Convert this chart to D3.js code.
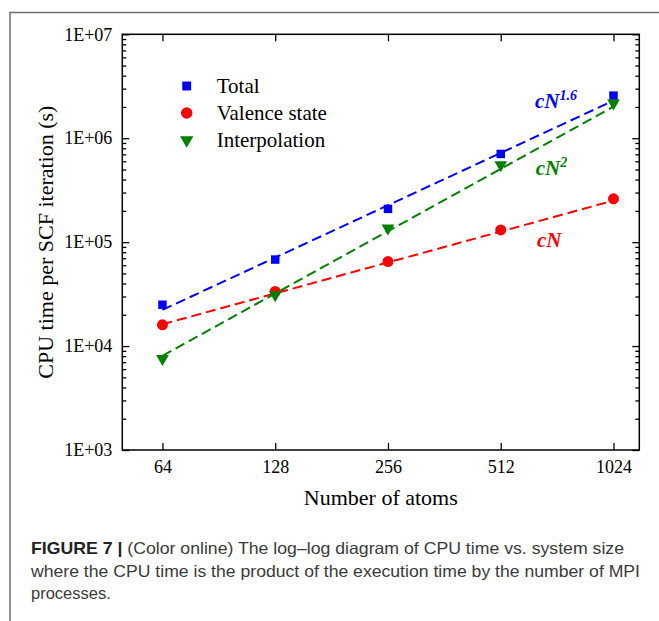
<!DOCTYPE html>
<html>
<head>
<meta charset="utf-8">
<script src="https://cdn.jsdelivr.net/npm/d3@7"></script>
<style>
  body { margin: 0; background: #fff; }
  svg text { font-family: "Liberation Serif", "Times New Roman", serif; }
  .caption text { font-family: "Liberation Sans", Arial, sans-serif; }
</style>
</head>
<body>
<div id="chart"></div>
<script>
// Data
var atoms = [64, 128, 256, 512, 1024];
var totalTime = [2.5e4, 6.8e4, 2.09e5, 7.06e5, 2.57e6];
var valenceTime = [1.6e4, 3.35e4, 6.5e4, 1.31e5, 2.61e5];
var interpTime = [7.55e3, 3.11e4, 1.36e5, 5.53e5, 2.17e6];

// fitted power laws, endpoints at N = 64 and N = 1024
var fitN = [64, 1024];
var totalFit = [2.23e4, 2.3e6];
var valenceFit = [1.62e4, 2.51e5];
var interpFit = [8.07e3, 2.01e6];

var yTicks = [1e3, 1e4, 1e5, 1e6, 1e7];
var yTickLabels = ["1E+03", "1E+04", "1E+05", "1E+06", "1E+07"];
var seriesNames = ["Total", "Valence state", "Interpolation"];
// exponent shown next to each fit (Total, Valence, Interpolation)
var fitLabels = ["1.6", "", "2"];
// label anchors in data units (N, time)
var fitLabelN = [632, 640, 635];
var fitLabelT = [1.94e6, 9.0e4, 4.42e5];

var width = 659, height = 621;
var margin = {left: 122.3, right: 19.7, top: 34.3, bottom: 171};

var svg = d3.select("#chart")
    .append("svg")
    .attr("width", width)
    .attr("height", height);

// figure frame (top and left edge)
svg.append("path")
    .attr("d", "M10,621V12.5H659")
    .attr("fill", "none")
    .attr("stroke", "#6e6e6e")
    .attr("stroke-width", 1.5);

var xScale = d3.scaleLog().base(2)
    .domain([50, 1200])
    .range([margin.left, width - margin.right]);

var yScale = d3.scaleLog()
    .domain([1e3, 1e7])
    .range([height - margin.bottom, margin.top]);

var minorTicks = [];
yTicks.slice(0, -1).forEach(function(t) {
  for (var k = 2; k <= 9; k++) minorTicks.push(t * k);
});

var x0 = margin.left, x1 = width - margin.right;
var y0 = height - margin.bottom, y1 = margin.top;

// axes
svg.append("g")
    .attr("transform", `translate(0, ${y0})`)
    .call(d3.axisBottom(xScale).tickValues(atoms).tickFormat(d3.format("d"))
        .tickSizeInner(-7).tickSizeOuter(0).tickPadding(10));
svg.append("g")
    .attr("transform", `translate(0, ${y1})`)
    .call(d3.axisTop(xScale).tickValues(atoms).tickFormat("")
        .tickSizeInner(-7).tickSizeOuter(0));
svg.append("g")
    .attr("transform", `translate(${x0}, 0)`)
    .call(d3.axisLeft(yScale).tickValues(yTicks)
        .tickFormat(function(d, i) { return yTickLabels[i]; })
        .tickSizeInner(-7).tickSizeOuter(0).tickPadding(10));
svg.append("g")
    .attr("transform", `translate(${x0}, 0)`)
    .call(d3.axisLeft(yScale).tickValues(minorTicks).tickFormat("")
        .tickSizeInner(-4).tickSizeOuter(0));
svg.append("g")
    .attr("transform", `translate(${x1}, 0)`)
    .call(d3.axisRight(yScale).tickValues(yTicks).tickFormat("")
        .tickSizeInner(-7).tickSizeOuter(0));
svg.append("g")
    .attr("transform", `translate(${x1}, 0)`)
    .call(d3.axisRight(yScale).tickValues(minorTicks).tickFormat("")
        .tickSizeInner(-4).tickSizeOuter(0));

svg.selectAll(".domain").remove();
svg.selectAll(".tick line").attr("stroke", "#000").attr("stroke-width", 1.3);
svg.selectAll(".tick text")
    .attr("font-family", "Liberation Serif, Times New Roman, serif")
    .attr("font-size", 18)
    .attr("fill", "#000");

// plot frame
svg.append("rect")
    .attr("x", x0).attr("y", y1)
    .attr("width", x1 - x0).attr("height", y0 - y1)
    .attr("fill", "none")
    .attr("stroke", "#000")
    .attr("stroke-width", 1.5);

// axis titles
svg.append("text")
    .attr("x", (x0 + x1) / 2)
    .attr("y", 505)
    .attr("text-anchor", "middle")
    .attr("font-size", 22)
    .text("Number of atoms");

svg.append("text")
    .attr("transform", `translate(53, ${(y0 + y1) / 2}) rotate(-90)`)
    .attr("text-anchor", "middle")
    .attr("font-size", 22)
    .text("CPU time per SCF iteration (s)");

// series
var series = [
  {name: seriesNames[0], values: totalTime, fit: totalFit, color: "#0000ff", symbol: d3.symbolSquare, size: 72, rot: 0},
  {name: seriesNames[1], values: valenceTime, fit: valenceFit, color: "#ff0000", symbol: d3.symbolCircle, size: 95, rot: 0},
  {name: seriesNames[2], values: interpTime, fit: interpFit, color: "#008000", symbol: d3.symbolTriangle, size: 70, rot: 180}
];

var line = d3.line()
    .x(function(d) { return xScale(d[0]); })
    .y(function(d) { return yScale(d[1]); });

series.forEach(function(s) {
  svg.append("path")
      .datum(fitN.map(function(n, i) { return [n, s.fit[i]]; }))
      .attr("d", line)
      .attr("fill", "none")
      .attr("stroke", s.color)
      .attr("stroke-width", 2)
      .attr("stroke-dasharray", "10,5");
});

series.forEach(function(s) {
  svg.append("g").selectAll("path")
      .data(atoms.map(function(n, i) { return [n, s.values[i]]; }))
      .enter()
      .append("path")
      .attr("d", d3.symbol().type(s.symbol).size(s.size))
      .attr("transform", function(d) {
        return `translate(${xScale(d[0])}, ${yScale(d[1])}) rotate(${s.rot})`;
      })
      .attr("fill", s.color);
});

// fit labels
series.forEach(function(s, i) {
  var t = svg.append("text")
      .attr("x", xScale(fitLabelN[i]))
      .attr("y", yScale(fitLabelT[i]))
      .attr("font-size", 21)
      .attr("font-weight", "bold")
      .attr("font-style", "italic")
      .attr("fill", s.color)
      .text("cN");
  if (fitLabels[i]) {
    t.append("tspan")
        .attr("dy", -8)
        .attr("font-size", 14)
        .text(fitLabels[i]);
  }
});

// legend
var legend = svg.append("g").attr("transform", "translate(186.7, 86)");
series.forEach(function(s, i) {
  var row = legend.append("g").attr("transform", `translate(0, ${i * 27})`);
  row.append("path")
      .attr("d", d3.symbol().type(s.symbol).size(s.size * 1.1))
      .attr("transform", `rotate(${s.rot})`)
      .attr("fill", s.color);
  row.append("text")
      .attr("x", 30)
      .attr("y", 7)
      .attr("font-size", 21)
      .text(s.name);
});

// caption
var cap = svg.append("g").attr("class", "caption")
    .attr("fill", "#3a3a3a")
    .attr("font-size", 16.5);
var l1 = cap.append("text").attr("x", 31).attr("y", 554)
    .attr("textLength", 593).attr("lengthAdjust", "spacingAndGlyphs");
l1.append("tspan").attr("font-weight", "bold").attr("fill", "#222").text("FIGURE 7 | ");
l1.append("tspan").text("(Color online) The log\u2013log diagram of CPU time vs. system size");
cap.append("text").attr("x", 31).attr("y", 577)
    .attr("textLength", 609).attr("lengthAdjust", "spacingAndGlyphs")
    .text("where the CPU time is the product of the execution time by the number of MPI");
cap.append("text").attr("x", 31).attr("y", 599)
    .text("processes.");
</script>
</body>
</html>
